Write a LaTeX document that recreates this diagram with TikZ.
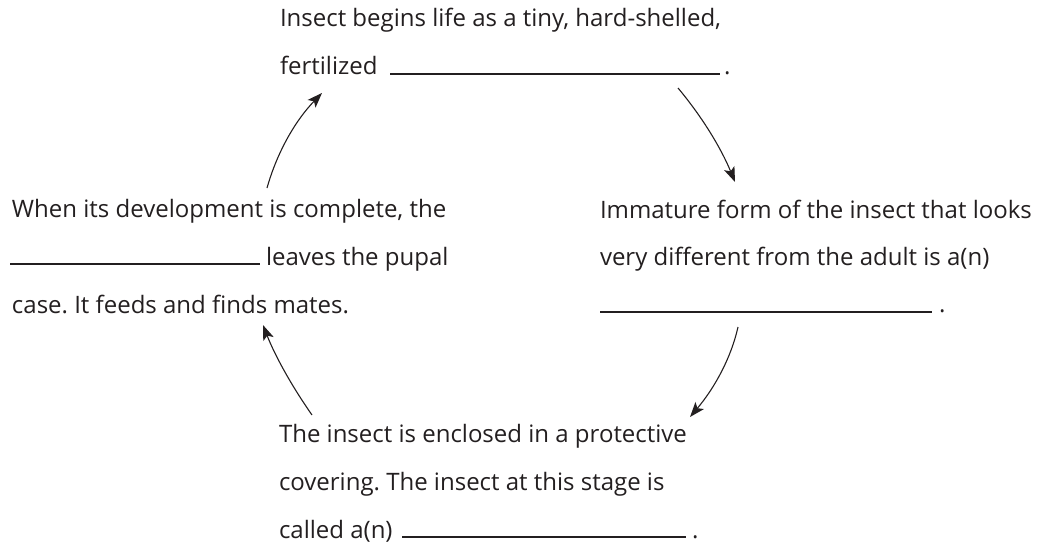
\documentclass[tikz,border=0pt]{standalone}
\usepackage{fontspec}
\setmainfont{Open Sans}
\usetikzlibrary{arrows.meta}
\definecolor{ink}{HTML}{231F20}
\frenchspacing
\tikzset{
  txt/.style={anchor=base west, inner sep=0pt, outer sep=0pt, text=ink, font=\fontsize{24}{28}\selectfont},
  blank/.style={draw=ink, line width=1.2pt},
  cyc/.style={draw=ink, line width=1.1pt, -{Stealth[length=15pt,width=11pt,inset=3.5pt]}},
}
\begin{document}
\begin{tikzpicture}[x=1pt,y=-1pt]
\useasboundingbox (0,0) rectangle (1038,546);
% top block
\node[txt] (t1) at (280,27) {Insect begins life as a tiny, hard-shelled,};
\node[txt] (t2) at (280,74) {fertilized};
\coordinate (t2a) at (390,74); \coordinate (t2b) at (720,74);
\draw[blank] (t2a) -- (t2b);
\node[txt] (t2d) at (724,74) {.};
% right block
\node[txt] (r1) at (600,218) {Immature form of the insect that looks};
\node[txt] (r2) at (600,265) {very different from the adult is a(n)};
\coordinate (r3a) at (600,312); \coordinate (r3b) at (932,312);
\draw[blank] (r3a) -- (r3b);
\node[txt] (r3d) at (939,312) {.};
% bottom block
\node[txt] (b1) at (279,442) {The insect is enclosed in a protective};
\node[txt] (b2) at (279,490) {covering. The insect at this stage is};
\node[txt] (b3) at (279,538) {called a(n)};
\coordinate (b3a) at (402,537); \coordinate (b3b) at (686,537);
\draw[blank] (b3a) -- (b3b);
\node[txt] (b3d) at (692,538) {.};
% left block
\node[txt] (l1) at (12,217) {When its development is complete, the};
\coordinate (l2a) at (10,264); \coordinate (l2b) at (260,264);
\draw[blank] (l2a) -- (l2b);
\node[txt] (l2) at (266,265) {leaves the pupal};
\node[txt] (l3) at (12,313) {case. It feeds and finds mates.};
% arrows
\coordinate (a1s) at (267,188); \coordinate (a1e) at (322,93);
\coordinate (a2s) at (678,88); \coordinate (a2e) at (735,182);
\coordinate (a3s) at (738,327); \coordinate (a3e) at (690,417);
\coordinate (a4s) at (312,415); \coordinate (a4e) at (263,325);
\draw[cyc] (a1s) .. controls (277.3,151.6) and (295.6,120.3) .. (a1e);
\draw[cyc] (a2s) .. controls (702,116.7) and (721,148) .. (a2e);
\draw[cyc] (a3s) .. controls (731.3,357) and (715.3,387) .. (a3e);
\draw[cyc] (a4s) .. controls (291,385) and (274.7,355) .. (a4e);
\end{tikzpicture}
\end{document}
